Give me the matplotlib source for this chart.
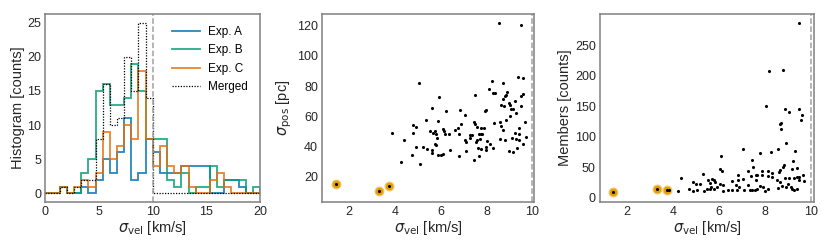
import numpy as np
import matplotlib
matplotlib.use("Agg")
import matplotlib.pyplot as plt

plt.rcParams.update({
  "font.family": ["Liberation Sans", "DejaVu Sans"],
  "font.size": 9,
  "axes.edgecolor": "#808080",
  "axes.linewidth": 1.1,
  "xtick.major.size": 0,
  "ytick.major.size": 0,
  "xtick.major.pad": 3,
  "ytick.major.pad": 3,
  "xtick.labelsize": 9,
  "ytick.labelsize": 9,
  "axes.labelsize": 10.5,
  "xtick.color": "#262626",
  "ytick.color": "#262626",
  "axes.labelcolor": "#262626",
})

# histogram: 30 bins of width 2/3 km/s between 0 and 20
bin_edges = np.linspace(0, 20, 31)
exp_a = [0, 0, 1, 0, 0, 1, 0, 2, 5, 3, 6, 11, 2, 3, 8,
         6, 3, 3, 3, 4, 4, 4, 4, 0, 0, 2, 2, 1, 0, 0]
exp_b = [0, 0, 1, 0, 0, 3, 5, 15, 16, 13, 13, 14, 19, 15, 8,
         8, 8, 2, 1, 3, 0, 1, 1, 4, 1, 2, 2, 2, 0, 1]
exp_c = [0, 0, 1, 0, 1, 2, 1, 3, 9, 5, 7, 10, 8, 18, 8,
         4, 7, 4, 3, 4, 1, 0, 0, 2, 3, 1, 0, 0, 0, 0]
merged = [0, 0, 1, 0, 1, 2, 2, 8, 16, 10, 11, 20, 15, 25, 14,
          0, 0, 0, 0, 0, 0, 0, 0, 0, 0, 0, 0, 0, 0, 0]
hist_labels = ["Exp. A", "Exp. B", "Exp. C"]
hist_colors = ["#0173b2", "#029e73", "#e1700f"]

# sigma_vel vs sigma_pos
vel_pos = [5.03, 5.91, 5.61, 6.22, 5.35, 5.87, 4.77, 4.90, 3.87, 4.80,
           5.52, 5.76, 5.68, 5.81, 6.09, 6.15, 6.20, 6.38, 6.63, 6.77,
           6.78, 5.83, 4.38, 5.74, 5.78, 4.93, 5.22, 5.38, 5.63, 6.42,
           5.61, 4.76, 5.86, 6.03, 6.09, 6.80, 4.26, 5.09,
           8.54, 9.51, 9.39, 9.57, 8.22, 8.73, 7.51, 8.10, 8.29, 8.35,
           8.90, 8.84, 8.80, 8.70, 9.48, 9.61, 8.61, 8.77, 8.96, 9.02,
           9.25, 9.06, 9.16, 9.28, 9.52, 7.91, 7.99, 6.86, 7.07, 9.02,
           8.84, 8.32, 8.57, 9.68, 6.89, 7.43, 7.48, 7.57, 7.74, 7.90,
           8.64, 8.71, 9.43, 7.26, 7.35, 7.65, 7.76, 7.81, 9.22, 9.41,
           9.74, 7.29, 7.70, 8.58, 8.81, 9.10, 9.29, 9.42, 7.06, 7.09,
           7.52, 7.60, 8.02, 8.16, 7.61, 7.74, 7.99, 7.99, 8.29, 9.32,
           9.57, 8.96, 9.16, 7.12, 7.67, 7.43]
sigma_pos = [82.0, 72.7, 65.4, 63.4, 57.2, 56.8, 54.3, 52.8, 49.0, 49.0,
             50.1, 50.1, 48.8, 48.1, 51.7, 50.1, 48.1, 48.3, 51.0, 52.1,
             48.1, 45.5, 43.9, 41.7, 40.8, 39.5, 39.2, 38.2, 37.5, 37.5,
             35.3, 33.9, 33.9, 34.2, 35.1, 33.3, 29.8, 28.4,
             122.0, 120.7, 86.0, 85.3, 83.0, 82.2, 74.0, 77.7, 75.1, 75.1,
             76.2, 74.2, 73.1, 71.4, 73.6, 74.9, 67.6, 66.5, 68.7, 67.1,
             69.8, 64.7, 64.7, 61.8, 66.5, 63.1, 64.0, 64.2, 60.7, 59.8,
             57.4, 55.4, 55.8, 55.8, 55.0, 56.1, 54.8, 52.8, 52.1, 52.1,
             53.2, 50.5, 51.9, 47.2, 47.7, 48.1, 48.1, 47.9, 48.5, 47.9,
             45.9, 45.2, 45.0, 45.0, 44.2, 45.2, 45.0, 44.4, 43.9, 42.8,
             43.0, 43.9, 43.7, 41.5, 38.8, 38.2, 39.2, 37.5, 38.6, 39.0,
             41.2, 36.6, 36.4, 36.9, 33.7, 30.9]

# sigma_vel vs number of members
vel_mem = [9.48, 8.19, 8.77, 8.06, 8.87, 9.03, 9.49, 9.60, 9.55, 8.71,
           8.67, 8.70, 8.93, 7.03, 7.79, 8.26, 8.58, 9.32, 6.09, 9.22,
           7.44, 6.06, 6.14, 5.33, 4.36, 6.83, 7.28, 7.48, 7.61, 7.87,
           8.13, 8.29, 8.61, 8.64, 8.80, 8.84, 9.17, 9.38, 9.39, 9.47,
           9.64, 9.70, 9.49, 9.25, 9.06, 8.87, 8.54, 8.65, 8.29, 8.13,
           7.87, 7.67, 7.60, 7.40, 7.05, 6.83, 6.58, 6.38, 6.17, 5.93,
           6.04, 5.85, 5.78, 5.72, 5.54, 5.60, 5.66, 5.60, 5.78, 5.47,
           5.35, 5.20, 5.00, 4.89, 4.72, 4.86, 5.06, 4.24, 3.85, 6.74,
           6.89, 6.80, 7.10, 7.25, 7.34, 7.44, 7.56, 7.67, 7.77, 7.93,
           7.99, 8.12, 8.55, 8.75, 8.90, 9.01, 9.12, 9.17, 9.26, 9.39,
           6.19, 6.56]
members = [287, 207, 210, 151, 145, 140, 145, 136, 127, 123,
           121, 112, 89, 80, 74, 75, 80, 77, 68, 60,
           61, 47, 44, 39, 32, 38, 43, 50, 38, 44,
           43, 41, 42, 46, 50, 53, 47, 49, 34, 34,
           37, 27, 29, 33, 33, 33, 29, 26, 34, 35,
           37, 37, 29, 36, 30, 29, 27, 13, 11, 17,
           22, 25, 29, 31, 29, 24, 17, 14, 14, 14,
           11, 23, 23, 25, 14, 11, 13, 11, 13, 21,
           17, 13, 13, 20, 12, 13, 13, 15, 19, 17,
           11, 14, 16, 19, 18, 23, 18, 15, 12, 14,
           20, 12]

# highlighted low-dispersion groups
hi_vel = [1.41, 3.30, 3.74]
hi_pos = [15.0, 10.3, 13.8]
hi_mem = [9, 14, 13]

vel_cut = 10.0

fig = plt.figure(figsize=(8.3, 2.49), dpi=100)
bottom, height = 0.189, 0.754
ax1 = fig.add_axes([0.0548, bottom, 0.2585, height])
ax2 = fig.add_axes([0.3883, bottom, 0.2551, height])
ax3 = fig.add_axes([0.7229, bottom, 0.2582, height])

for values, label, color in zip([exp_a, exp_b, exp_c], hist_labels, hist_colors):
  ax1.stairs(values, bin_edges, color=color, lw=1.3, alpha=0.85, label=label)
ax1.stairs(merged, bin_edges, color="black", lw=0.9, ls=(0, (1, 1.2)),
           label="Merged")
ax1.axvline(vel_cut, color="#a0a0a0", ls="--", lw=1.1)
ax1.set_xlim(0, 20)
ax1.set_ylim(-1.25, 26.25)
ax1.set_xticks([0, 5, 10, 15, 20])
ax1.set_yticks([0, 5, 10, 15, 20, 25])
ax1.set_xlabel(r"$\sigma_{\rm vel}$ [km/s]", labelpad=1)
ax1.set_ylabel("Histogram [counts]", labelpad=2)
ax1.legend(loc="upper right", frameon=False, fontsize=8.5,
           handlelength=2.3, handletextpad=0.75, labelspacing=0.55,
           borderaxespad=0.6)

ax2.scatter(hi_vel, hi_pos, s=40, color="#e69f00", edgecolor="#f2c770",
            lw=0.8, zorder=2)
ax2.scatter(vel_pos + hi_vel, sigma_pos + hi_pos, s=5, color="black",
            lw=0, zorder=3)
ax2.axvline(vel_cut, color="#a0a0a0", ls="--", lw=1.1)
ax2.set_xlim(0.83, 10.07)
ax2.set_ylim(3.0, 127.7)
ax2.set_xticks([2, 4, 6, 8, 10])
ax2.set_yticks([20, 40, 60, 80, 100, 120])
ax2.set_xlabel(r"$\sigma_{\rm vel}$ [km/s]", labelpad=1)
ax2.set_ylabel(r"$\sigma_{\rm pos}$ [pc]", labelpad=2)

ax3.scatter(hi_vel, hi_mem, s=40, color="#e69f00", edgecolor="#f2c770",
            lw=0.8, zorder=2)
ax3.scatter(vel_mem + hi_vel, members + hi_mem, s=5, color="black",
            lw=0, zorder=3)
ax3.axvline(vel_cut, color="#a0a0a0", ls="--", lw=1.1)
ax3.set_xlim(0.84, 10.14)
ax3.set_ylim(-7, 301)
ax3.set_xticks([2, 4, 6, 8, 10])
ax3.set_yticks([0, 50, 100, 150, 200, 250])
ax3.set_xlabel(r"$\sigma_{\rm vel}$ [km/s]", labelpad=1)
ax3.set_ylabel("Members [counts]", labelpad=2)

fig.savefig("out.png", dpi=100)
